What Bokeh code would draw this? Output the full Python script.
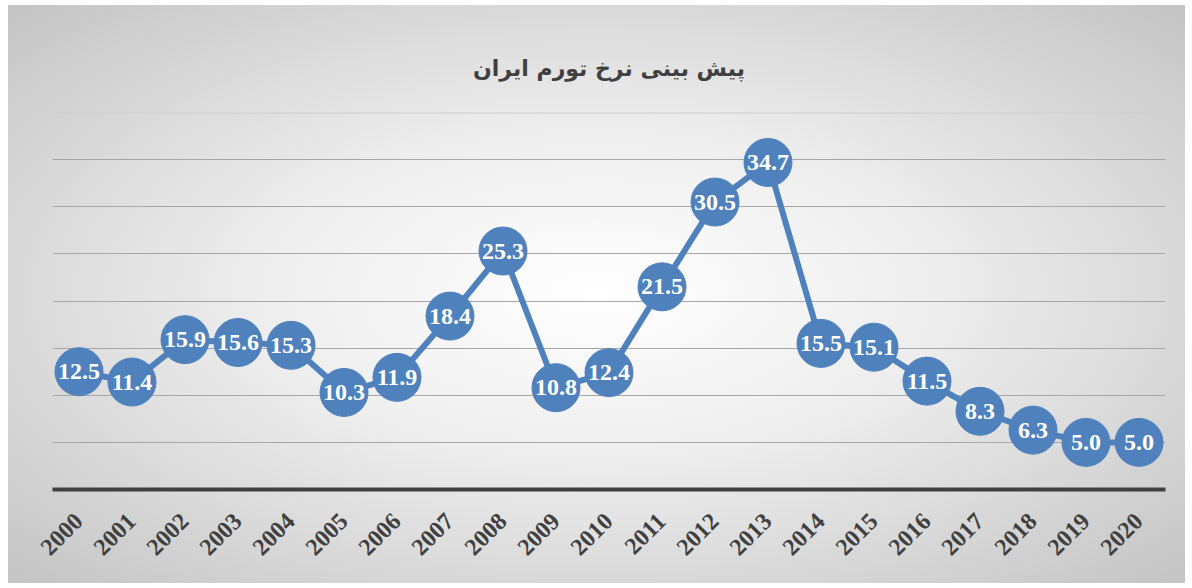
from bokeh.plotting import figure
from bokeh.models import FactorRange, Range1d, FixedTicker, ColumnDataSource, Span
from bokeh.core.properties import value
from bokeh.embed import file_html
from bokeh.resources import INLINE

years = [str(y) for y in range(2000, 2021)]
inflation = [12.5, 11.4, 15.9, 15.6, 15.3, 10.3, 11.9, 18.4, 25.3, 10.8, 12.4,
             21.5, 30.5, 34.7, 15.5, 15.1, 11.5, 8.3, 6.3, 5.0, 5.0]
labels = ["%.1f" % v for v in inflation]
grid_ticks = [5, 10, 15, 20, 25, 30, 35, 40]
title_text = "پیش بینی نرخ تورم ایران"

src = ColumnDataSource(dict(x=years, y=inflation, t=labels))

p = figure(width=1177, height=578, x_range=FactorRange(*years), y_range=Range1d(0, 40),
           output_backend="svg", toolbar_location=None,
           min_border_left=44, min_border_right=20, min_border_top=107, min_border_bottom=94)
p.styles = {"background": "radial-gradient(ellipse at 50% 50%, #ffffff 0%, #eeeeee 40%, #c4c4c4 100%)",
            "margin-left": "8px", "margin-top": "5px"}
p.background_fill_alpha = 0
p.border_fill_alpha = 0
p.outline_line_color = None

p.title.text = title_text
p.title.align = "center"
p.title.text_font = "DejaVu Sans"
p.title.text_font_style = "bold"
p.title.text_font_size = "22px"
p.title.text_color = "#404040"
p.title.standoff = 63

p.yaxis.visible = False
p.xgrid.grid_line_color = None
p.ygrid.ticker = FixedTicker(ticks=grid_ticks)
p.ygrid.grid_line_color = "#a6a6a6"
p.ygrid.grid_line_width = 1
p.add_layout(Span(location=grid_ticks[-1], dimension="width", line_color="#cdcdcd", line_width=2))

ax = p.xaxis[0]
ax.axis_line_color = "#404040"
ax.axis_line_width = 4
ax.major_tick_line_color = None
ax.minor_tick_line_color = None
ax.major_label_orientation = 0.785398
ax.major_label_text_font = "Liberation Serif"
ax.major_label_text_font_style = "bold"
ax.major_label_text_font_size = "24px"
ax.major_label_text_color = "#404040"
ax.major_label_standoff = 22

p.line("x", "y", source=src, line_color="#4f81bd", line_width=6)
p.scatter("x", "y", source=src, size=48, fill_color="#4f81bd", line_color="#4f81bd")
p.text("x", "y", text="t", source=src, text_align="center", text_baseline="middle",
       text_font=value("Liberation Serif"), text_font_style="bold", text_font_size="24px",
       text_color="white")

open("out.html", "w").write(file_html(p, INLINE))
